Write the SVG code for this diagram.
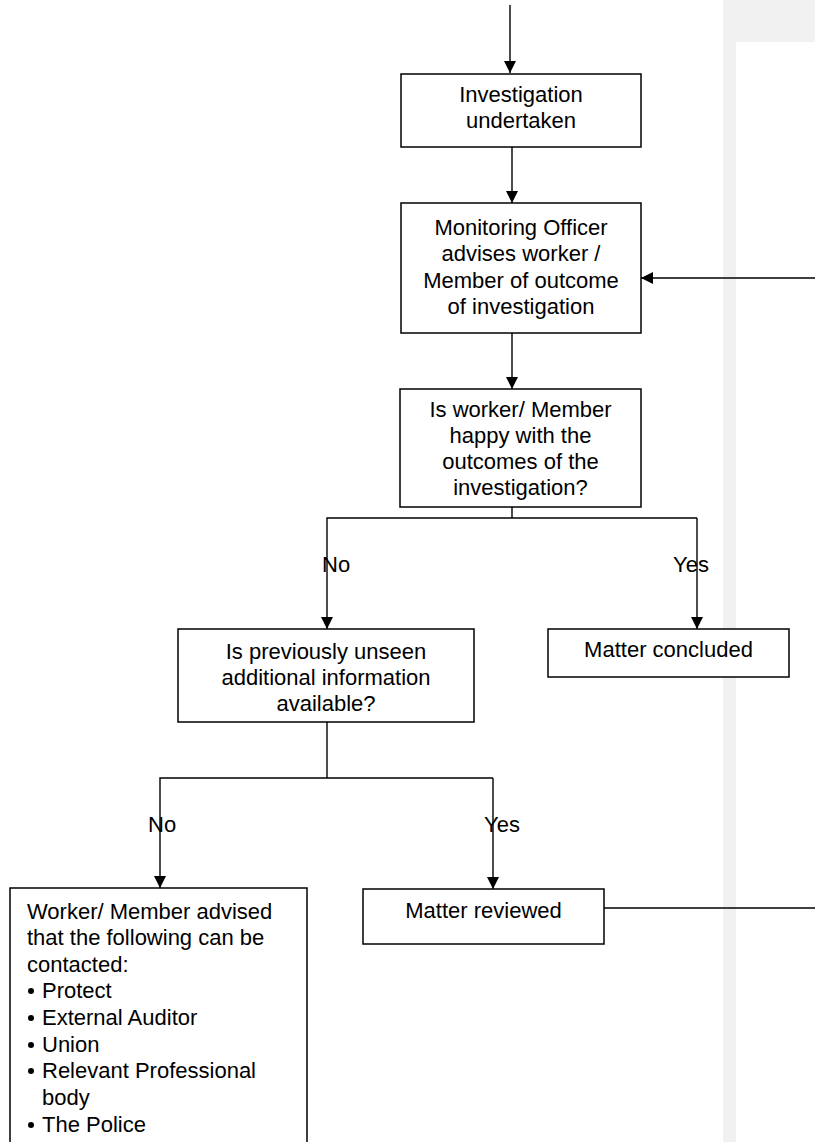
<svg xmlns="http://www.w3.org/2000/svg" width="815" height="1142" viewBox="0 0 815 1142">
<style>
.box{fill:#fff;stroke:#000;stroke-width:1.5}
.ln{fill:none;stroke:#000;stroke-width:1.4}
.t{font-family:"Liberation Sans",Arial,sans-serif;font-size:22px;fill:#000}
.c{text-anchor:middle}
</style>
<defs>
<marker id="ah" markerWidth="12" markerHeight="12" refX="12" refY="6" orient="auto" markerUnits="userSpaceOnUse"><path d="M0,0 L12,6 L0,12 z" fill="#000"/></marker>
</defs>
<rect x="0" y="0" width="815" height="1142" fill="#fff"/>
<rect x="723" y="0" width="92" height="1142" fill="#f1f1f1"/>
<rect x="736" y="42" width="79" height="1100" fill="#fff"/>
<g id="connectors">
<path class="ln" d="M510,5 V73" marker-end="url(#ah)"/>
<path class="ln" d="M512,147 V203" marker-end="url(#ah)"/>
<path class="ln" d="M512,333 V389" marker-end="url(#ah)"/>
<path class="ln" d="M815,278 H641" marker-end="url(#ah)"/>
<path class="ln" d="M512,507 V518"/>
<path class="ln" d="M697,518 H327 V629" marker-end="url(#ah)"/>
<path class="ln" d="M697,518 V629" marker-end="url(#ah)"/>
<path class="ln" d="M327,722 V778"/>
<path class="ln" d="M493,778 H160 V888" marker-end="url(#ah)"/>
<path class="ln" d="M493,778 V889" marker-end="url(#ah)"/>
<path class="ln" d="M604,908 H815"/>
<text class="t" x="322" y="572">No</text>
<text class="t" x="673" y="572">Yes</text>
<text class="t" x="148" y="832">No</text>
<text class="t" x="484" y="832">Yes</text>
</g>
<g id="n1">
<rect class="box" x="401" y="74" width="240" height="73"/>
<text class="t c" x="521" y="102">Investigation</text>
<text class="t c" x="521" y="128">undertaken</text>
</g>
<g id="n2">
<rect class="box" x="401" y="203" width="240" height="130"/>
<text class="t c" x="521" y="235">Monitoring Officer</text>
<text class="t c" x="521" y="261">advises worker /</text>
<text class="t c" x="521" y="288">Member of outcome</text>
<text class="t c" x="521" y="314">of investigation</text>
</g>
<g id="n3">
<rect class="box" x="400" y="389" width="241" height="118"/>
<text class="t c" x="520.5" y="417">Is worker/ Member</text>
<text class="t c" x="520.5" y="443">happy with the</text>
<text class="t c" x="520.5" y="469">outcomes of the</text>
<text class="t c" x="520.5" y="495">investigation?</text>
</g>
<g id="n4">
<rect class="box" x="178" y="629" width="296" height="93"/>
<text class="t c" x="326" y="659">Is previously unseen</text>
<text class="t c" x="326" y="685">additional information</text>
<text class="t c" x="326" y="711">available?</text>
</g>
<g id="n5">
<rect class="box" x="548" y="629" width="241" height="48"/>
<text class="t c" x="668.5" y="657">Matter concluded</text>
</g>
<g id="n6">
<rect class="box" x="363" y="889" width="241" height="55"/>
<text class="t c" x="483.5" y="918">Matter reviewed</text>
</g>
<g id="n7">
<rect class="box" x="10" y="888" width="297" height="270"/>
<text class="t" x="27" y="919">Worker/ Member advised</text>
<text class="t" x="27" y="945">that the following can be</text>
<text class="t" x="27" y="972">contacted:</text>
<circle cx="31" cy="991" r="3"/>
<text class="t" x="42" y="998">Protect</text>
<circle cx="31" cy="1018" r="3"/>
<text class="t" x="42" y="1025">External Auditor</text>
<circle cx="31" cy="1045" r="3"/>
<text class="t" x="42" y="1052">Union</text>
<circle cx="31" cy="1071" r="3"/>
<text class="t" x="42" y="1078">Relevant Professional</text>
<text class="t" x="42" y="1105">body</text>
<circle cx="31" cy="1125" r="3"/>
<text class="t" x="42" y="1132">The Police</text>
</g>
</svg>
